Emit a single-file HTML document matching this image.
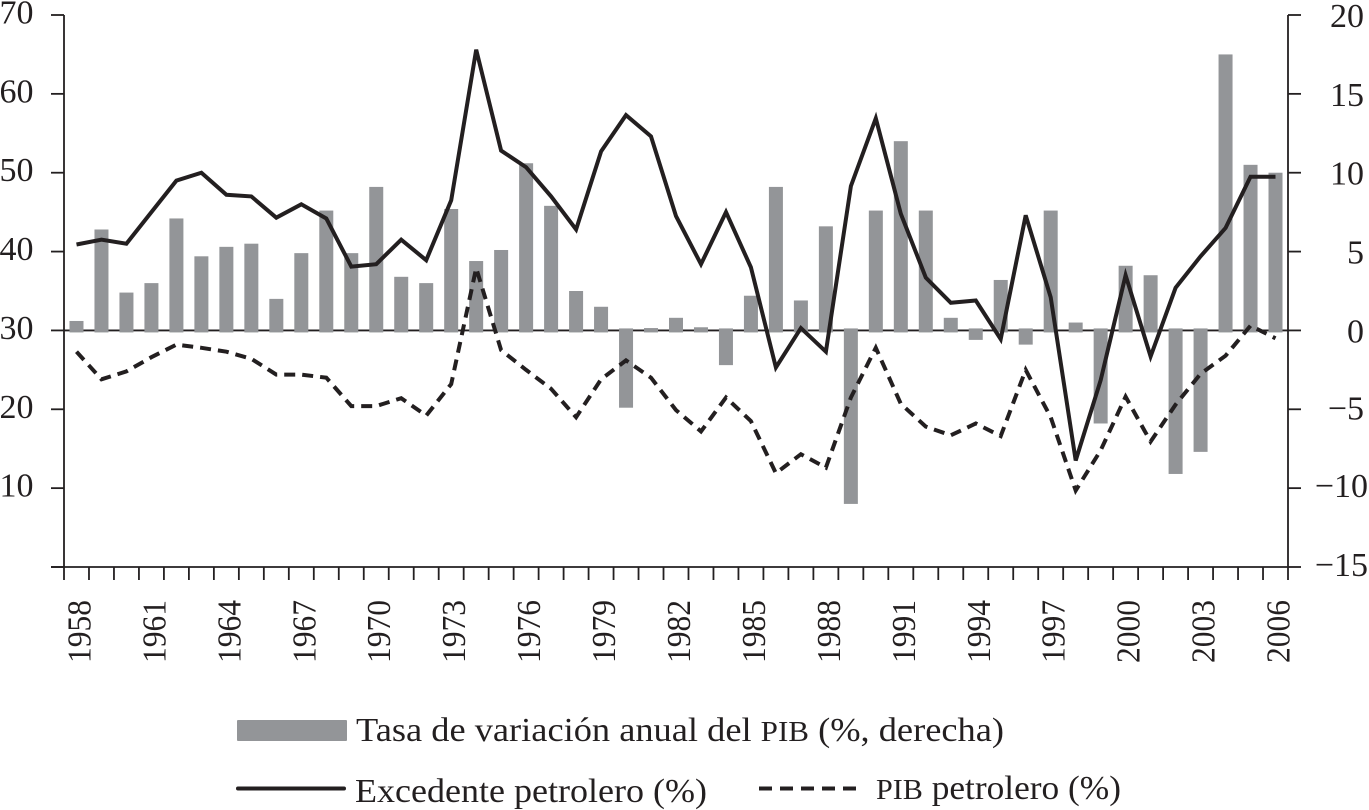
<!DOCTYPE html>
<html lang="es">
<head>
<meta charset="utf-8">
<title>Excedente petrolero y PIB</title>
<style>
html,body{margin:0;padding:0;background:#fff;width:1369px;height:810px;overflow:hidden}
svg{display:block}
text{font-family:"Liberation Serif",serif;fill:#231f20}
</style>
</head>
<body>
<svg id="chart" width="1369" height="810" viewBox="0 0 1369 810" xmlns="http://www.w3.org/2000/svg">
<g id="axes"></g>
<g id="bars"></g>
<path id="dashed" fill="none" stroke="#231f20" stroke-width="4" stroke-dasharray="11 7" stroke-linejoin="miter"></path>
<path id="solid" fill="none" stroke="#231f20" stroke-width="4" stroke-linejoin="miter"></path>
<g id="legend">
<g>
<rect x="237" y="720" width="110" height="21" rx="1" fill="#939598"></rect>
<text x="356" y="741" font-size="34" textLength="648" lengthAdjust="spacingAndGlyphs">Tasa de variación anual del <tspan font-size="29">PIB</tspan> (%, derecha)</text>
</g>
<g>
<line x1="238" y1="788.5" x2="344" y2="788.5" stroke="#231f20" stroke-width="4" stroke-linecap="round"></line>
<text x="355" y="802" font-size="34" textLength="352" lengthAdjust="spacingAndGlyphs">Excedente petrolero (%)</text>
</g>
<g>
<line x1="759" y1="788.5" x2="856" y2="788.5" stroke="#231f20" stroke-width="4" stroke-dasharray="13 8"></line>
<text x="876" y="799" font-size="34" textLength="245" lengthAdjust="spacingAndGlyphs"><tspan font-size="29">PIB</tspan> petrolero (%)</text>
</g>
</g>
</svg>
<script>
const years = [1958,1959,1960,1961,1962,1963,1964,1965,1966,1967,1968,1969,1970,1971,1972,1973,1974,1975,1976,1977,1978,1979,1980,1981,1982,1983,1984,1985,1986,1987,1988,1989,1990,1991,1992,1993,1994,1995,1996,1997,1998,1999,2000,2001,2002,2003,2004,2005,2006];
const gdpGrowth = [0.6,6.4,2.4,3.0,7.1,4.7,5.3,5.5,2.0,4.9,7.6,4.9,9.1,3.4,3.0,7.7,4.4,5.1,10.6,7.9,2.5,1.5,-4.9,0.15,0.8,0.2,-2.2,2.2,9.1,1.9,6.6,-11,7.6,12,7.6,0.8,-0.6,3.2,-0.9,7.6,0.5,-5.9,4.1,3.5,-9.1,-7.7,17.5,10.5,10];
const oilSurplus = [40.9,41.5,41,45,49,50,47.2,47,44.3,46,44.2,38.1,38.4,41.5,38.9,46.5,65.6,52.8,50.7,47,42.8,52.7,57.3,54.6,44.5,38.4,45,38,25.3,30.3,27.3,48.3,56.9,44.8,36.7,33.5,33.8,28.9,44.6,34.2,13.5,23.7,37,26.7,35.4,39.4,43,49.5,49.5];
const oilGdp = [27.3,23.8,24.8,26.6,28.2,27.8,27.3,26.4,24.4,24.4,24,20.4,20.4,21.4,19.2,23.2,37.9,27.5,25,22.6,19,23.8,26.2,24,19.9,17.2,21.5,18.5,11.9,14.3,12.6,21.5,27.8,20.7,17.8,16.7,18.2,16.6,25,19,9.7,14.8,21.6,15.9,20.6,24.5,26.8,30.6,29];
const leftTicks = [0,10,20,30,40,50,60,70];
const leftLabels = ['','10','20','30','40','50','60','70'];
const rightTicks = [-15,-10,-5,0,5,10,15,20];
const rightLabels = ['−15','−10','−5','0','5','10','15','20'];

const NS = 'http://www.w3.org/2000/svg';
const plotLeft = 64, plotRight = 1288, plotTop = 15, plotBottom = 567;
const xBand = (plotRight - plotLeft) / years.length;
function xCenter(i){ return plotLeft + xBand * (i + 0.5); }
function yLeft(v){ return plotBottom - (v / 70) * (plotBottom - plotTop); }
function yRight(v){ return plotBottom - ((v + 15) / 35) * (plotBottom - plotTop); }
const AXIS = '#231f20';

function axisLine(parent, x1, y1, x2, y2, name, w){
  const l = document.createElementNS(NS, 'line');
  l.setAttribute('x1', x1); l.setAttribute('y1', y1);
  l.setAttribute('x2', x2); l.setAttribute('y2', y2);
  l.setAttribute('stroke', AXIS);
  l.setAttribute('stroke-width', w || 1.8);
  
  
  parent.appendChild(l);
}
function label(parent, str, x, y, anchor, name, rotate){
  const t = document.createElementNS(NS, 'text');
  t.textContent = str;
  t.setAttribute('font-size', '34');
  t.setAttribute('text-anchor', anchor);
  if (rotate) {
    t.setAttribute('transform', 'translate(' + x + ',' + y + ') rotate(-90)');
    t.setAttribute('textLength', '63');
    t.setAttribute('lengthAdjust', 'spacingAndGlyphs');
  } else {
    t.setAttribute('x', x);
    t.setAttribute('y', y);
  }
  
  
  parent.appendChild(t);
}

const barsG = document.getElementById('bars');
gdpGrowth.forEach(function(v, i){
  const r = document.createElementNS(NS, 'rect');
  const base = yRight(0) + (v >= 0 ? 2 : -2);
  const tip = yRight(v);
  r.setAttribute('x', xCenter(i) - 7);
  r.setAttribute('width', 14);
  r.setAttribute('y', Math.min(base, tip));
  r.setAttribute('height', Math.abs(tip - base));
  r.setAttribute('fill', '#939598');
  
  
  barsG.appendChild(r);
});

const axesG = document.getElementById('axes');
axisLine(axesG, plotLeft, plotTop, plotLeft, plotBottom, 'left-axis-line');
axisLine(axesG, plotRight, plotTop, plotRight, plotBottom, 'right-axis-line');
axisLine(axesG, plotLeft - 13, plotBottom, plotRight, plotBottom, 'x-axis-line');
axisLine(axesG, plotLeft, yRight(0), plotRight, yRight(0), 'zero-line');
leftTicks.forEach(function(v, i){
  const y = yLeft(v);
  axisLine(axesG, plotLeft - 13, y, plotLeft, y, 'left-tick-' + v);
  if (leftLabels[i]) label(axesG, leftLabels[i], 33.5, y + 8.5, 'end', 'left-tick-label-' + v);
});
rightTicks.forEach(function(v, i){
  const y = yRight(v);
  axisLine(axesG, plotRight, y, plotRight + 13, y, 'right-tick-' + v);
  const dy = v >= 0 ? 12 : (v > -10 ? 10 : 9);
  const endX = v <= -10 ? 1368 : 1364;
  label(axesG, rightLabels[i], endX, y + dy, 'end', 'right-tick-label-' + v);
});
for (let i = 0; i <= years.length; i++) {
  const x = plotLeft + xBand * i;
  axisLine(axesG, x, plotBottom, x, plotBottom + 13, 'x-tick-' + i);
}
years.forEach(function(yr, i){
  if (i % 3 === 0) label(axesG, String(yr), xCenter(i) + 14, 663, 'start', 'x-tick-label-' + yr, true);
});

function linePath(values){
  return values.map(function(v, i){
    return (i ? 'L' : 'M') + xCenter(i).toFixed(1) + ' ' + yLeft(v).toFixed(1);
  }).join('');
}
document.getElementById('solid').setAttribute('d', linePath(oilSurplus));
document.getElementById('dashed').setAttribute('d', linePath(oilGdp));
</script>
</body>
</html>
